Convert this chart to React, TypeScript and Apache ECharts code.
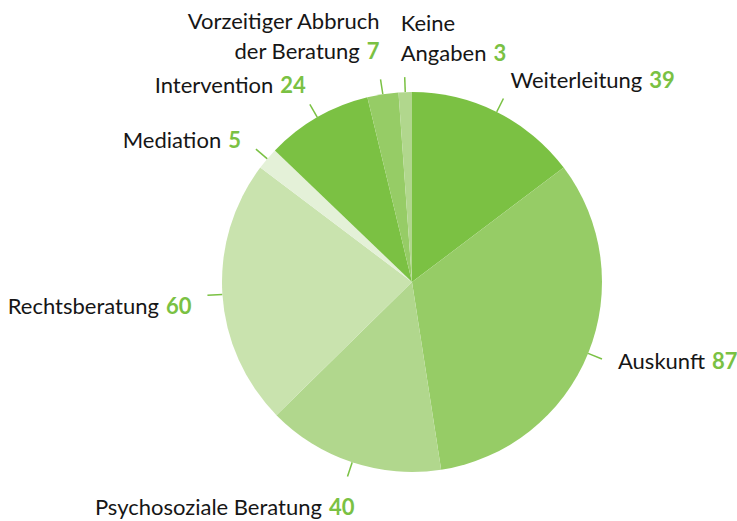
import React, { useEffect, useRef } from "react";
import * as echarts from "echarts";

const categories = [
  "Weiterleitung",
  "Auskunft",
  "Psychosoziale Beratung",
  "Rechtsberatung",
  "Mediation",
  "Intervention",
  "Vorzeitiger Abbruch\nder Beratung",
  "Keine\nAngaben",
];
const values = [39, 87, 40, 60, 5, 24, 7, 3];
const colors = ["#7bc143", "#96cc66", "#b1d78d", "#c9e3ae", "#e4f1d8", "#7bc143", "#96cc66", "#b1d78d"];

// label placement relative to the label line end: [align, verticalAlign, dx, dy]
const labelPlace: [string, string, number, number][] = [
  ["left", "middle", 7, -19],
  ["left", "middle", 16, 1],
  ["right", "middle", 7, 30],
  ["right", "middle", -16, 10],
  ["right", "middle", -15, -10],
  ["right", "middle", -4, -20],
  ["right", "bottom", -1, -14],
  ["left", "bottom", -4, -10],
];

const FONT = "Lato";

export default function App() {
  const ref = useRef<HTMLDivElement>(null);
  useEffect(() => {
    document.body.style.margin = "0";
    const chart = echarts.init(ref.current!, null, { renderer: "svg" });
    chart.setOption({
      animation: false,
      backgroundColor: "#ffffff",
      series: [
        {
          type: "pie",
          center: [412, 282],
          radius: 190,
          startAngle: 90,
          clockwise: true,
          avoidLabelOverlap: false,
          data: categories.map((c, i) => ({
            name: c,
            value: values[i],
            itemStyle: { color: colors[i] },
          })),
          label: {
            show: true,
            position: "outside",
            fontFamily: FONT,
            formatter: (p: any) => {
              const lines = String(p.name).split("\n");
              return lines
                .map((l, i) =>
                  i === lines.length - 1 ? `{n|${l}}{s| }{v|${p.value}}` : `{n|${l}}`
                )
                .join("\n");
            },
            rich: {
              n: { fontFamily: FONT, fontSize: 22, color: "#161616", lineHeight: 30 },
              s: { fontFamily: FONT, fontSize: 22, lineHeight: 30, width: 7 },
              v: { fontFamily: FONT, fontSize: 22, color: "#7ac143", fontWeight: "bold", lineHeight: 30 },
            },
          },
          labelLine: {
            show: true,
            length: 15,
            length2: 0,
            smooth: false,
            lineStyle: { color: "#7ac143", width: 1.5 },
          },
          labelLayout: (params: any) => {
            const pts = params.labelLinePoints;
            const end = pts[pts.length - 1];
            const [align, va, dx, dy] = labelPlace[params.dataIndex];
            return {
              x: end[0] + dx,
              y: end[1] + dy,
              align,
              verticalAlign: va,
              labelLinePoints: pts,
            };
          },
        },
      ],
    });
    return () => chart.dispose();
  }, []);
  return <div ref={ref} style={{ width: 737, height: 521 }} />;
}
